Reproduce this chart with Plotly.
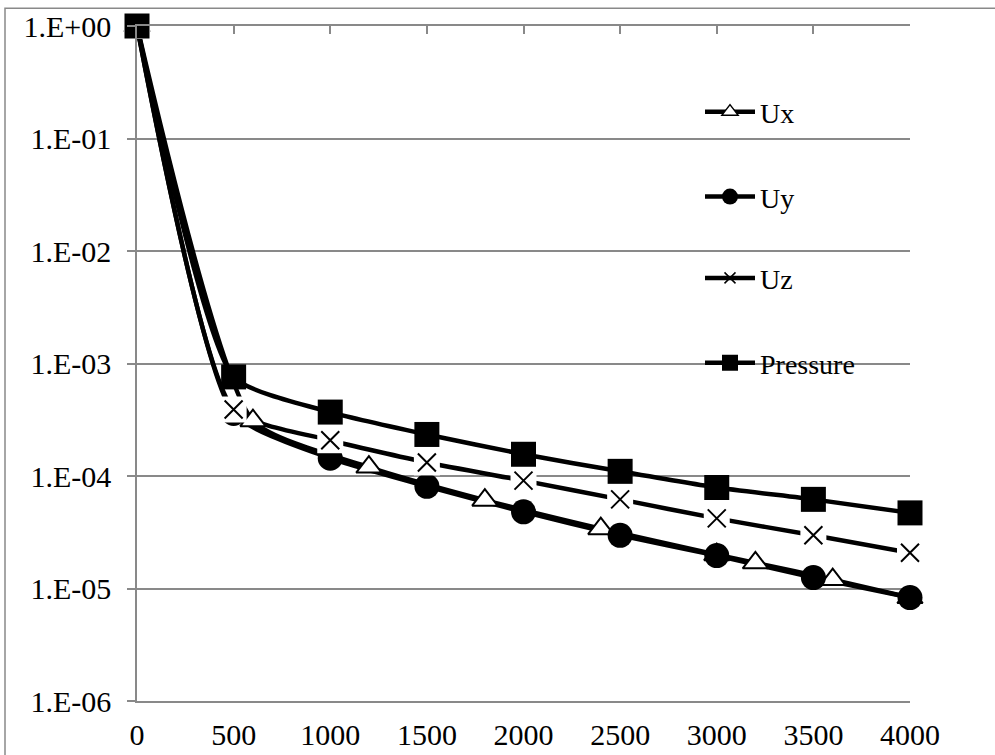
import plotly.graph_objects as go

# ---- data ----
x_main = [0, 500, 1000, 1500, 2000, 2500, 3000, 3500, 4000]
ux_x = [0, 600, 1200, 1800, 2400, 3000, 3200, 3600, 4000]
ux_vals = [1.0, 3.1e-4, 1.2e-4, 6.1e-5, 3.4e-5, 2.0e-5, 1.69e-5, 1.2e-5, 8.3e-6]
uy_vals = [1.0, 3.6e-4, 1.44e-4, 8.1e-5, 4.8e-5, 2.97e-5, 1.96e-5, 1.25e-5, 8.3e-6]
uz_vals = [1.0, 3.9e-4, 2.08e-4, 1.32e-4, 9.1e-5, 6.2e-5, 4.2e-5, 2.97e-5, 2.08e-5]
p_vals = [1.0, 7.6e-4, 3.7e-4, 2.34e-4, 1.56e-4, 1.10e-4, 7.9e-5, 6.2e-5, 4.7e-5]
series_names = ["Ux", "Uy", "Uz", "Pressure"]
y_tickvals = [1e-6, 1e-5, 1e-4, 1e-3, 1e-2, 1e-1, 1e0]
y_ticktext = ["1.E-06", "1.E-05", "1.E-04", "1.E-03", "1.E-02", "1.E-01", "1.E+00"]
x_tickvals = [0, 500, 1000, 1500, 2000, 2500, 3000, 3500, 4000]

FONT = "Liberation Serif"
GRID = "#898989"
LW = 4.5
SMOOTH = 0.55
TICKFONT = dict(family=FONT, size=30, color="black")

fig = go.Figure()

# lines first (Excel draws all lines under all markers)
for xs, ys in [(ux_x, ux_vals), (x_main, uy_vals), (x_main, uz_vals), (x_main, p_vals)]:
    fig.add_trace(go.Scatter(x=xs, y=ys, mode="lines", cliponaxis=False,
                             line=dict(color="black", width=LW, shape="spline", smoothing=SMOOTH),
                             showlegend=False, hoverinfo="skip"))

# markers
fig.add_trace(go.Scatter(x=ux_x, y=ux_vals, mode="markers", showlegend=False, cliponaxis=False,
                         marker=dict(symbol="triangle-up", size=22, color="white",
                                     line=dict(color="black", width=2))))
fig.add_trace(go.Scatter(x=x_main, y=uy_vals, mode="markers", showlegend=False, cliponaxis=False,
                         marker=dict(symbol="circle", size=25, color="black",
                                     line=dict(width=0))))
fig.add_trace(go.Scatter(x=x_main, y=uz_vals, mode="markers", showlegend=False, cliponaxis=False,
                         marker=dict(symbol="square", size=26, color="white",
                                     line=dict(width=0))))
fig.add_trace(go.Scatter(x=x_main, y=uz_vals, mode="markers", showlegend=False, cliponaxis=False,
                         marker=dict(symbol="x-thin", size=18, color="black",
                                     line=dict(color="black", width=2))))
fig.add_trace(go.Scatter(x=x_main, y=p_vals, mode="markers", showlegend=False, cliponaxis=False,
                         marker=dict(symbol="square", size=25, color="black",
                                     line=dict(width=0))))

# legend entries (one legend each, stacked like the Excel legend)
leg_markers = [
    dict(symbol="triangle-up", size=14, color="white", line=dict(color="black", width=1.5)),
    dict(symbol="circle", size=16, color="black", line=dict(width=0)),
    dict(symbol="x-thin", size=11, color="black", line=dict(color="black", width=1.5)),
    dict(symbol="square", size=16, color="black", line=dict(width=0)),
]
leg_ids = ["legend", "legend2", "legend3", "legend4"]
leg_y_px = [111.7, 196.7, 278, 363]
plot_top, plot_bot, plot_left, plot_right = 25.7, 701, 137, 910
ph = plot_bot - plot_top
pw = plot_right - plot_left

for name, mk, lid in zip(series_names, leg_markers, leg_ids):
    fig.add_trace(go.Scatter(x=[None], y=[None], mode="lines+markers", name=name,
                             line=dict(color="black", width=LW), marker=mk,
                             legend=lid, showlegend=True))

legend_common = dict(font=dict(family=FONT, size=28, color="black"),
                     bgcolor="rgba(0,0,0,0)", borderwidth=0,
                     xanchor="left", yanchor="middle", itemwidth=50)
layout_legends = {}
for lid, ypx in zip(leg_ids, leg_y_px):
    layout_legends[lid] = dict(legend_common, x=(700 - plot_left) / pw,
                               y=(plot_bot - ypx) / ph)

fig.update_layout(
    width=995, height=755,
    margin=dict(l=plot_left, r=995 - plot_right, t=plot_top, b=755 - plot_bot,
                autoexpand=False),
    paper_bgcolor="white", plot_bgcolor="white",
    font=dict(family=FONT, size=28, color="black"),
    xaxis=dict(range=[0, 4000], tickvals=x_tickvals, showgrid=False, zeroline=False,
               showline=True, linecolor=GRID, linewidth=1.5, ticks="",
               ticklabelstandoff=6, automargin=False, tickfont=TICKFONT),
    xaxis2=dict(range=[0, 4000], tickvals=x_tickvals, overlaying="x", side="top",
                showgrid=False, zeroline=False, showline=True, linecolor=GRID,
                linewidth=1.5, ticks="inside", ticklen=8, tickwidth=1.5, tickcolor=GRID,
                showticklabels=False, matches="x", automargin=False),
    yaxis=dict(type="log", range=[-6, 0], tickvals=y_tickvals, ticktext=y_ticktext,
               showgrid=True, gridcolor=GRID, gridwidth=1.5, zeroline=False,
               showline=True, linecolor=GRID, linewidth=1.5,
               ticks="outside", ticklen=8, tickwidth=1.5, tickcolor=GRID,
               ticklabelstandoff=10, automargin=False, tickfont=TICKFONT),
    **layout_legends,
)

# dummy trace to activate xaxis2
fig.add_trace(go.Scatter(x=[None], y=[None], xaxis="x2", showlegend=False, hoverinfo="skip"))

# outer chart border
fig.add_shape(type="rect", xref="paper", yref="paper",
              x0=(5 - plot_left) / pw, x1=(1100 - plot_left) / pw,
              y0=(plot_bot - 900) / ph, y1=(plot_bot - 8) / ph,
              line=dict(color=GRID, width=1.5), fillcolor="rgba(0,0,0,0)", layer="below")

fig.write_html("out.html")
